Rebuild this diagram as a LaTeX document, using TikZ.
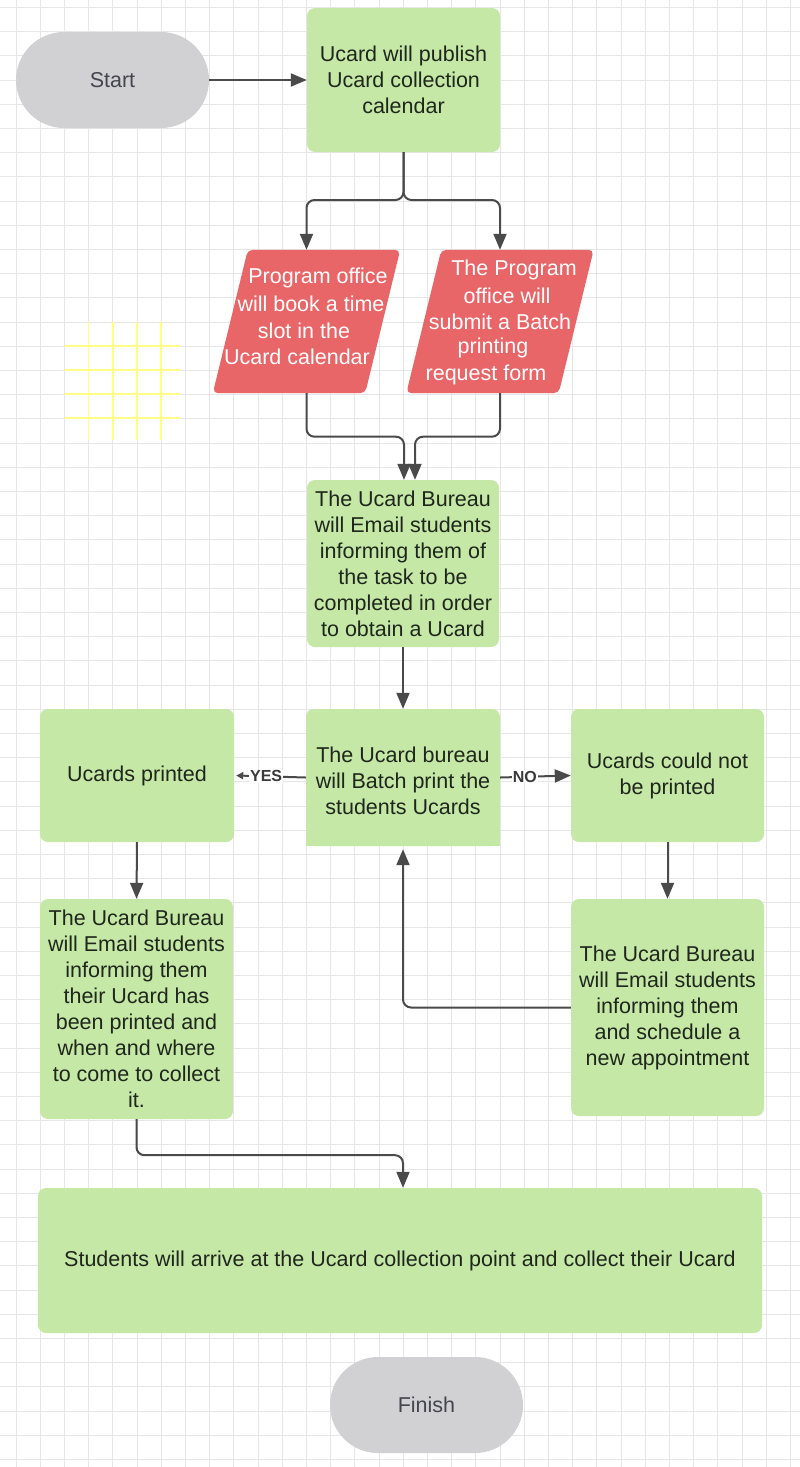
\documentclass[tikz,border=0pt]{standalone}
\usepackage{fontspec}
\setmainfont{Liberation Sans}
\usetikzlibrary{arrows.meta,calc}
\definecolor{boxgreen}{HTML}{C5E8A7}
\definecolor{parared}{HTML}{E86568}
\definecolor{termgray}{HTML}{D1D1D4}
\definecolor{termtext}{HTML}{45454F}
\definecolor{boxtext}{HTML}{1F261C}
\definecolor{arrowgray}{HTML}{4A4A4A}
\definecolor{gridgray}{HTML}{E6E6E6}
\definecolor{gridyellow}{HTML}{FFFF85}
\definecolor{labtext}{HTML}{3A3A3A}
\begin{document}
\begin{tikzpicture}[x=1pt,y=-1pt,
  mainfont/.style={font=\fontsize{21.5}{26}\selectfont},
  gbox/.style={rectangle, rounded corners=8pt, fill=boxgreen, text=boxtext, align=center, inner sep=0pt, mainfont},
  term/.style={rectangle, rounded corners=48pt, fill=termgray, text=termtext, inner sep=0pt, minimum width=193pt, minimum height=96pt, mainfont},
  parabox/.style={rectangle, minimum width=187pt, minimum height=143pt, inner sep=0pt},
  parafill/.style={fill=parared, rounded corners=5pt},
  ptext/.style={text=white, inner sep=0pt, mainfont},
  arr/.style={draw=arrowgray, line width=2pt, -{Triangle[length=16pt,width=13pt]}},
  smallarr/.style={draw=arrowgray, line width=2pt, -{Triangle[length=7pt,width=7pt]}},
  lab/.style={font=\bfseries\fontsize{16}{19}\selectfont, text=labtext, fill=white, inner sep=1pt},
  gridline/.style={draw=gridgray, line width=1pt},
  yelline/.style={draw=gridyellow, line width=1.6pt}
]
\useasboundingbox (0,0) rectangle (800,1467);
\fill[white] (0,0) rectangle (800,1467);
% background grid
\begin{scope}
\clip (0,0) rectangle (800,1467);
\foreach \i in {-1,...,33} { \draw[gridline] (16+\i*24.2,0) -- (16+\i*24.2,1467); }
\foreach \j in {-4,...,58} { \draw[gridline] (0,80+\j*24.2) -- (800,80+\j*24.2); }
\end{scope}
\foreach \k in {3,4,5,6} { \draw[yelline] (16+\k*24.2,322) -- (16+\k*24.2,440); }
\foreach \yy in {346,370,394,418} { \draw[yelline] (65,\yy) -- (180,\yy); }

% nodes
\node[term] (start) at (112.5,80) {Start};
\node[gbox, minimum width=193pt, minimum height=144pt] (b1) at (403.5,80) {Ucard will publish\\Ucard collection\\calendar};

\node[parabox] (p1) at (306.5,321.5) {};
\fill[parafill] (p1.south west) -- ([xshift=-35pt]p1.south east) -- (p1.north east) -- ([xshift=35pt]p1.north west) -- cycle;
\node[ptext] (p1a) at (318,278) {Program office};
\node[ptext] (p1b) at (311,304) {will book a time};
\node[ptext] (p1c) at (304,330.5) {slot in the};
\node[ptext] (p1d) at (297,356.5) {Ucard calendar};

\node[parabox] (p2) at (500,321.5) {};
\fill[parafill] (p2.south west) -- ([xshift=-35pt]p2.south east) -- (p2.north east) -- ([xshift=35pt]p2.north west) -- cycle;
\node[ptext] (p2a) at (514,269.5) {The Program};
\node[ptext] (p2b) at (507,296) {office will};
\node[ptext] (p2c) at (500,322) {submit a Batch};
\node[ptext] (p2d) at (493,348) {printing};
\node[ptext] (p2e) at (486,374.5) {request form};

\node[gbox, minimum width=192pt, minimum height=167pt] (bur) at (403,563.5) {The Ucard Bureau\\will Email students\\informing them of\\the task to be\\completed in order\\to obtain a Ucard};

\node[gbox, minimum width=194pt, minimum height=137pt] (mid) at (403,777.5) {};
\fill[boxgreen] ([yshift=10pt]mid.south west) rectangle (mid.south east);
\node[inner sep=0pt, text=boxtext, align=center, mainfont] (midt) at (403,781) {The Ucard bureau\\will Batch print the\\students Ucards};

\node[gbox, minimum width=194pt, minimum height=133pt] (l1) at (137,775.5) {Ucards printed};
\node[gbox, minimum width=193pt, minimum height=133pt] (r1) at (667.5,775.5) {Ucards could not\\be printed};

\node[gbox, minimum width=193pt, minimum height=220pt] (l2) at (136.5,1009) {The Ucard Bureau\\will Email students\\informing them\\their Ucard has\\been printed and\\when and where\\to come to collect\\it.};
\node[gbox, minimum width=193pt, minimum height=217pt] (r2) at (667.5,1007.5) {The Ucard Bureau\\will Email students\\informing them\\and schedule a\\new appointment};

\node[gbox, minimum width=724pt, minimum height=145pt] (fin) at (400,1260.5) {Students will arrive at the Ucard collection point and collect their Ucard};
\node[term] (finish) at (426.5,1405) {Finish};

% connectors
\coordinate (split) at (403.5,200);
\draw[arr] (start) -- (b1);
\draw[arr, rounded corners=8pt] (b1.south) -- (split) -| (p1.north);
\draw[arr, rounded corners=8pt] (b1.south) -- (split) -| (p2.north);
\draw[arr, rounded corners=8pt] (p1.south) -- ++(0,43.5) -| ([xshift=1pt]bur.north);
\draw[arr, rounded corners=8pt] (p2.south) -- ++(0,43.5) -| ([xshift=12pt]bur.north);
\draw[arr] (bur.south) -- (mid.north);
\draw[smallarr] (mid.west) -- node[lab, pos=0.57] (yes) {YES} ([xshift=2pt]l1.east);
\draw[arr] (mid.east) -- node[lab, pos=0.35] (no) {NO} (r1.west);
\draw[arr] (l1.south) -- (l2.north);
\draw[arr] (r1.south) -- (r2.north);
\draw[arr, rounded corners=8pt, shorten >=3pt] (r2.west) -| (mid.south);
\draw[arr, rounded corners=8pt] (l2.south) -- ++(0,36) -| ([xshift=3pt]fin.north);
\end{tikzpicture}
\end{document}
